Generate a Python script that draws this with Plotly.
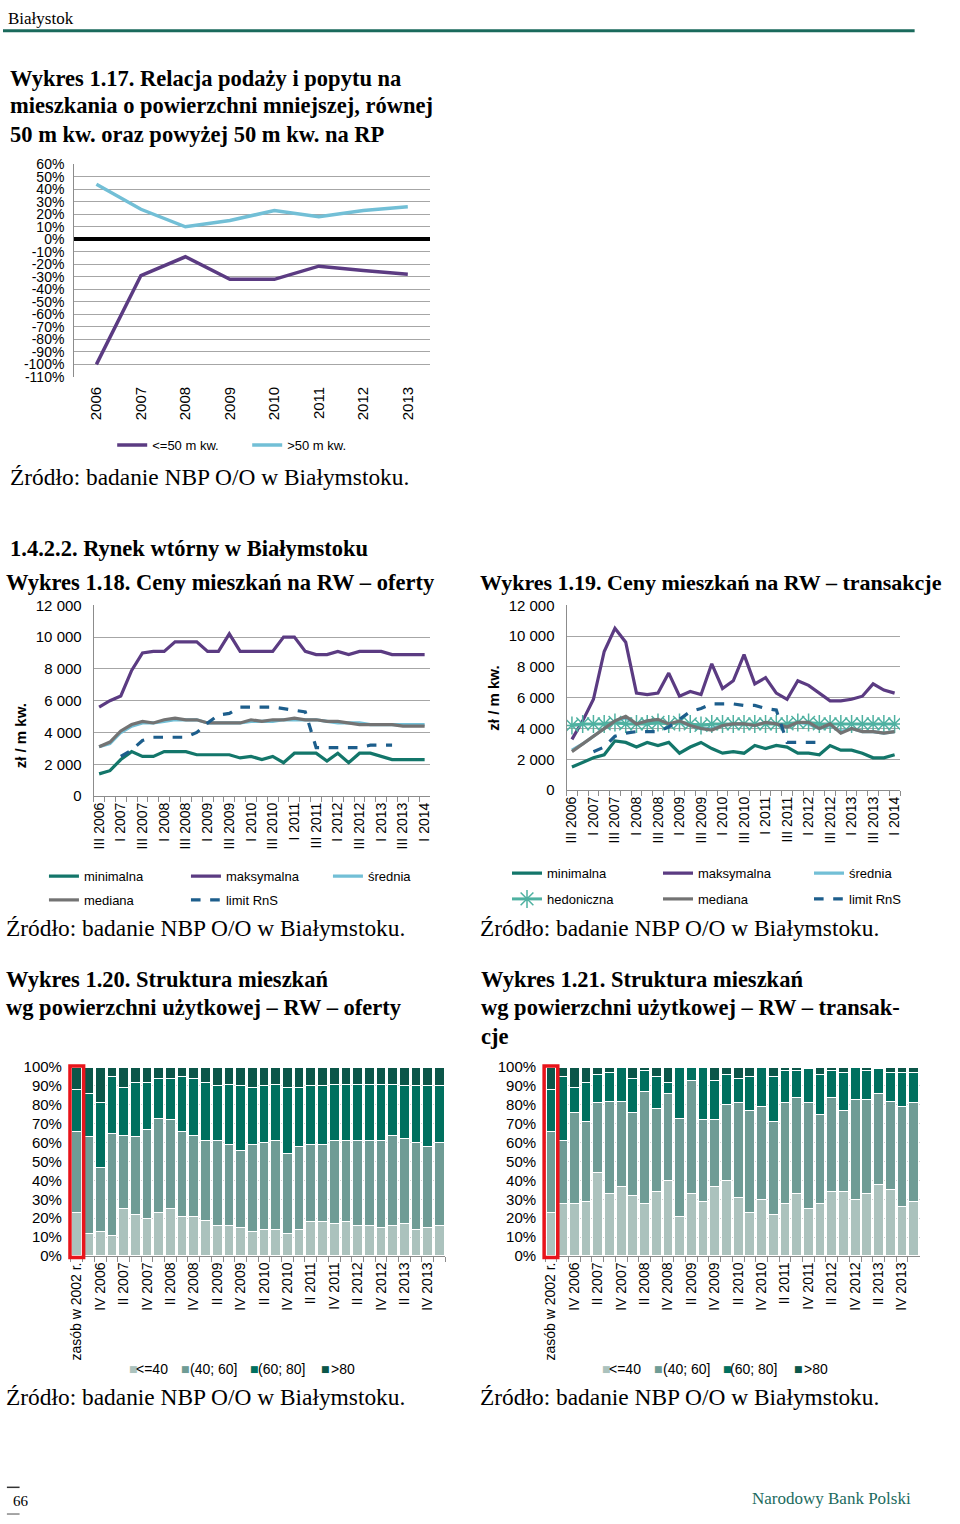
import plotly.graph_objects as go

W, H = 960, 1524

# ---------------- data ----------------
years = ["2006", "2007", "2008", "2009", "2010", "2011", "2012", "2013"]
rel_small = [-100, -29, -14, -32, -32, -21.5, -25, -28]     # <=50 m kw.
rel_large = [44, 24, 10, 15, 23, 18, 23, 26]                 # >50 m kw.
rel_ticks = [60, 50, 40, 30, 20, 10, 0, -10, -20, -30, -40, -50, -60, -70, -80, -90, -100, -110]
rel_ticktext = ["60%", "50%", "40%", "30%", "20%", "10%", "0%", "-10%", "-20%", "-30%", "-40%",
                "-50%", "-60%", "-70%", "-80%", "-90%", "-100%", "-110%"]

quarters = ["III 2006", "IV 2006",
            "I 2007", "II 2007", "III 2007", "IV 2007",
            "I 2008", "II 2008", "III 2008", "IV 2008",
            "I 2009", "II 2009", "III 2009", "IV 2009",
            "I 2010", "II 2010", "III 2010", "IV 2010",
            "I 2011", "II 2011", "III 2011", "IV 2011",
            "I 2012", "II 2012", "III 2012", "IV 2012",
            "I 2013", "II 2013", "III 2013", "IV 2013",
            "I 2014"]

# Wykres 1.18 - oferty (zł / m kw.)
off_min = [1400, 1600, 2300, 2800, 2500, 2500, 2800, 2800, 2800, 2600, 2600, 2600, 2600, 2400, 2500, 2300,
           2500, 2100, 2700, 2700, 2700, 2200, 2700, 2100, 2700, 2700, 2500, 2300, 2300, 2300, 2300]
off_max = [5600, 6000, 6300, 7900, 9000, 9100, 9100, 9700, 9700, 9700, 9100, 9100, 10200, 9100, 9100, 9100,
           9100, 10000, 10000, 9100, 8900, 8900, 9100, 8900, 9100, 9100, 9100, 8900, 8900, 8900, 8900]
off_mean = [3100, 3300, 4000, 4400, 4600, 4600, 4700, 4800, 4800, 4800, 4600, 4600, 4600, 4600, 4700, 4700,
            4700, 4800, 4800, 4800, 4800, 4700, 4600, 4600, 4600, 4500, 4500, 4500, 4500, 4500, 4500]
off_median = [3100, 3400, 4100, 4500, 4700, 4600, 4800, 4900, 4800, 4800, 4600, 4600, 4600, 4600, 4800, 4700,
              4800, 4800, 4900, 4800, 4800, 4700, 4700, 4600, 4500, 4500, 4500, 4500, 4400, 4400, 4400]
off_limit = [None, None, 2500, 2900, 3500, 3700, 3700, 3700, 3700, 4000, 4600, 5100, 5200, 5600, 5600, 5600,
             5600, 5500, 5400, 5300, 3050, 3050, 3050, 3050, 3050, 3200, 3200, 3200, None, None, None]

# Wykres 1.19 - transakcje (zł / m kw.)
tr_min = [1500, 1800, 2100, 2300, 3200, 3100, 2800, 3100, 2900, 3100, 2400, 2800, 3100, 2700, 2400, 2500,
          2400, 2900, 2700, 2900, 2800, 2400, 2400, 2300, 2900, 2600, 2600, 2400, 2100, 2100, 2300]
tr_max = [3300, 4500, 5900, 9000, 10500, 9600, 6300, 6200, 6300, 7600, 6100, 6400, 6200, 8200, 6600, 7100,
          8800, 6900, 7300, 6300, 5900, 7100, 6800, 6300, 5800, 5800, 5900, 6100, 6900, 6500, 6300]
tr_mean = [2600, 3000, 3500, 4000, 4500, 4700, 4300, 4500, 4500, 4300, 4400, 4200, 4000, 4000, 4200, 4300,
           4300, 4200, 4400, 4300, 4100, 4400, 4300, 4000, 4200, 3800, 4000, 3800, 3800, 3700, 3800]
tr_hed = [4200, 4300, 4300, 4300, 4400, 4300, 4300, 4300, 4400, 4300, 4400, 4300, 4200, 4300, 4300, 4300,
          4300, 4300, 4300, 4300, 4300, 4400, 4400, 4300, 4300, 4300, 4300, 4300, 4300, 4300, 4300]
tr_median = [2500, 3000, 3500, 4000, 4500, 4800, 4300, 4500, 4600, 4300, 4500, 4200, 4000, 3900, 4200, 4300,
             4300, 4200, 4400, 4300, 4100, 4400, 4400, 4000, 4300, 3700, 4000, 3800, 3800, 3700, 3800]
tr_limit = [None, None, 2500, 2800, 3500, 3700, 3800, 3800, 3800, 4100, 4600, 5100, 5300, 5600, 5600, 5600,
            5500, 5500, 5300, 5200, 3100, 3100, 3100, 3100, None, None, None, None, None, None, None]

# Wykres 1.20 / 1.21 - struktura (%)
bar_cats = ["zasób w 2002 r."] + quarters
size_names = ["<=40", "(40; 60]", "(60; 80]", ">80"]
of_le40 = [23, 12, 13, 11, 25, 22, 20, 23, 25, 21, 21, 19, 16, 16, 15, 13, 14, 14, 12, 14, 18, 18, 17, 18,
           16, 16, 15, 16, 17, 14, 15, 16]
of_40_60 = [43, 51, 34, 54, 39, 41, 47, 50, 47, 45, 43, 42, 45, 43, 41, 46, 46, 47, 42, 44, 41, 41, 44, 43,
            45, 45, 46, 48, 45, 46, 43, 44]
of_60_80 = [22, 23, 34, 30, 25, 29, 25, 21, 22, 29, 30, 31, 29, 32, 34, 30, 30, 30, 35, 31, 31, 31, 30, 30,
            30, 30, 30, 27, 28, 30, 32, 30]
of_gt80 = [12, 14, 19, 5, 11, 8, 8, 6, 6, 5, 6, 8, 10, 9, 10, 11, 10, 9, 11, 11, 10, 10, 9, 9,
           9, 9, 9, 9, 10, 10, 10, 10]
tr_le40 = [23, 28, 28, 29, 44, 33, 37, 32, 28, 34, 40, 21, 33, 29, 37, 40, 31, 23, 30, 22, 28, 33, 25, 28,
           34, 34, 30, 33, 38, 35, 26, 29]
tr_40_60 = [43, 33, 48, 42, 37, 49, 45, 44, 59, 44, 46, 52, 60, 43, 35, 40, 50, 54, 49, 49, 53, 51, 56, 47,
            50, 43, 53, 50, 48, 47, 53, 52]
tr_60_80 = [22, 34, 13, 21, 15, 15, 18, 18, 11, 17, 6, 27, 7, 28, 21, 16, 13, 18, 21, 24, 17, 14, 18, 21,
            14, 20, 17, 15, 13, 15, 18, 16]
tr_gt80 = [12, 5, 11, 8, 4, 3, 0, 6, 2, 5, 8, 0, 0, 0, 7, 4, 6, 5, 0, 5, 2, 2, 1, 4,
           2, 3, 0, 2, 1, 3, 3, 3]

line_ticktext = [q if i % 2 == 0 else "" for i, q in enumerate(quarters)]
bar_ticktext = [c if i % 2 == 0 else "" for i, c in enumerate(bar_cats)]

# ---------------- styles ----------------
C_MIN = "#13766a"
C_MAX = "#5b3b82"
C_MEAN = "#72bfd6"
C_MED = "#737373"
C_LIM = "#1d5e8c"
C_HED = "#4fb1a1"
BAR_COLORS = ["#abc2bd", "#6f9c95", "#00705f", "#0b5649"]
GRID = "#a6a6a6"
SANS = "Liberation Sans"
SERIF = "Liberation Serif"


def px_x(p):
    return p / W


def px_y(p):
    return 1 - p / H


fig = go.Figure()

# 1.17
fig.add_trace(go.Scatter(x=years, y=rel_small, name="<=50 m kw.", mode="lines",
                         line=dict(color=C_MAX, width=3.5), xaxis="x", yaxis="y", legend="legend"))
fig.add_trace(go.Scatter(x=years, y=rel_large, name=">50 m kw.", mode="lines",
                         line=dict(color=C_MEAN, width=3.5), xaxis="x", yaxis="y", legend="legend"))

# 1.18
fig.add_trace(go.Scatter(x=quarters, y=off_min, name="minimalna", mode="lines",
                         line=dict(color=C_MIN, width=3.2), xaxis="x2", yaxis="y2", legend="legend2"))
fig.add_trace(go.Scatter(x=quarters, y=off_max, name="maksymalna", mode="lines",
                         line=dict(color=C_MAX, width=3.2), xaxis="x2", yaxis="y2", legend="legend2"))
fig.add_trace(go.Scatter(x=quarters, y=off_mean, name="średnia", mode="lines",
                         line=dict(color=C_MEAN, width=3.2), xaxis="x2", yaxis="y2", legend="legend2"))
fig.add_trace(go.Scatter(x=quarters, y=off_median, name="mediana", mode="lines",
                         line=dict(color=C_MED, width=3.2), xaxis="x2", yaxis="y2", legend="legend3"))
fig.add_trace(go.Scatter(x=quarters, y=off_limit, name="limit RnS", mode="lines",
                         line=dict(color=C_LIM, width=3.2, dash="dash"), xaxis="x2", yaxis="y2",
                         legend="legend3"))

# 1.19
fig.add_trace(go.Scatter(x=quarters, y=tr_min, name="minimalna", mode="lines",
                         line=dict(color=C_MIN, width=3.2), xaxis="x3", yaxis="y3", legend="legend4"))
fig.add_trace(go.Scatter(x=quarters, y=tr_max, name="maksymalna", mode="lines",
                         line=dict(color=C_MAX, width=3.2), xaxis="x3", yaxis="y3", legend="legend4"))
fig.add_trace(go.Scatter(x=quarters, y=tr_mean, name="średnia", mode="lines",
                         line=dict(color=C_MEAN, width=3.2), xaxis="x3", yaxis="y3", legend="legend4"))
fig.add_trace(go.Scatter(x=quarters, y=tr_hed, name="hedoniczna", mode="lines+markers",
                         line=dict(color=C_HED, width=3),
                         marker=dict(symbol="asterisk-open", size=15, color=C_HED,
                                     line=dict(color=C_HED, width=1.5)),
                         xaxis="x3", yaxis="y3", legend="legend5"))
fig.add_trace(go.Scatter(x=quarters, y=tr_median, name="mediana", mode="lines",
                         line=dict(color=C_MED, width=3.2), xaxis="x3", yaxis="y3", legend="legend5"))
fig.add_trace(go.Scatter(x=quarters, y=tr_limit, name="limit RnS", mode="lines",
                         line=dict(color=C_LIM, width=3.2, dash="dash"), xaxis="x3", yaxis="y3",
                         legend="legend5"))

# 1.20 / 1.21
for vals, nm, col in zip([of_le40, of_40_60, of_60_80, of_gt80], size_names, BAR_COLORS):
    fig.add_trace(go.Bar(x=bar_cats, y=vals, name=nm, showlegend=False,
                         marker=dict(color=col, line=dict(color="white", width=1)),
                         xaxis="x4", yaxis="y4"))
for vals, nm, col in zip([tr_le40, tr_40_60, tr_60_80, tr_gt80], size_names, BAR_COLORS):
    fig.add_trace(go.Bar(x=bar_cats, y=vals, name=nm, showlegend=False,
                         marker=dict(color=col, line=dict(color="white", width=1)),
                         xaxis="x5", yaxis="y5"))

tickfont = dict(family=SANS, size=15, color="black")
xtickfont = dict(family=SANS, size=14, color="black")

layout = dict(
    width=W, height=H, autosize=False,
    margin=dict(l=0, r=0, t=0, b=0),
    paper_bgcolor="white", plot_bgcolor="white",
    font=dict(family=SANS, size=15, color="black"),
    separators=", ",
    barmode="stack", bargap=0.17,
    hovermode=False,
)

# axes 1.17
layout["xaxis"] = dict(domain=[px_x(73), px_x(438)], anchor="y", type="category", range=[-0.5, 7.5],
                       tickangle=-90, tickfont=tickfont, showgrid=False, showline=False, ticks="",
                       ticklabelstandoff=6)
layout["yaxis"] = dict(domain=[px_y(372), px_y(157)], anchor="x", range=[-110, 60],
                       tickmode="array", tickvals=rel_ticks, ticktext=rel_ticktext,
                       tickfont=dict(family=SANS, size=14, color="black"),
                       showgrid=True, gridcolor=GRID, gridwidth=1, showline=True, linecolor="#8c8c8c",
                       zeroline=True, zerolinecolor="black", zerolinewidth=4, ticks="", ticklabelstandoff=6)

# axes 1.18 / 1.19
LINE_X = {"2": (93, 438), "3": (578, 920)}
LINE_Y = {"2": (796, 603), "3": (790, 603)}
for ax in ["2", "3"]:
    xd, yd = LINE_X[ax], LINE_Y[ax]
    layout["xaxis" + ax] = dict(domain=[px_x(xd[0]), px_x(xd[1])], anchor="y" + ax, type="category",
                                tickmode="array", tickvals=quarters, ticktext=line_ticktext,
                                tickson="boundaries", ticks="outside", ticklen=5, tickcolor="#8c8c8c",
                                tickangle=-90, tickfont=xtickfont, showgrid=False,
                                showline=True, linecolor="#8c8c8c", range=[-0.5, 30.5])
    layout["yaxis" + ax] = dict(domain=[px_y(yd[0]), px_y(yd[1])], anchor="x" + ax, range=[0, 12000],
                                dtick=2000, tickformat=",d", tickfont=tickfont, showgrid=True,
                                gridcolor=GRID, showline=True, linecolor="#8c8c8c", zeroline=False,
                                ticks="", ticklabelstandoff=8)

# axes 1.20 / 1.21
BAR_X = {"4": (69.7, 453.7), "5": (556, 940)}
BAR_Y = (1261, 1070)
for ax in ["4", "5"]:
    xd = BAR_X[ax]
    layout["xaxis" + ax] = dict(domain=[px_x(xd[0]), px_x(xd[1])], anchor="y" + ax, type="category",
                                tickmode="array", tickvals=bar_cats, ticktext=bar_ticktext,
                                tickson="boundaries", ticks="outside", ticklen=5, tickcolor="#8c8c8c",
                                tickangle=-90, tickfont=xtickfont, showgrid=False,
                                showline=True, linecolor="#8c8c8c", range=[-0.5, 31.5])
    layout["yaxis" + ax] = dict(domain=[px_y(BAR_Y[0]), px_y(BAR_Y[1])], anchor="x" + ax, range=[0, 100],
                                dtick=10, ticksuffix="%", tickfont=tickfont, showgrid=True,
                                gridcolor="#d0d0d0", showline=False, zeroline=False, ticks="",
                                ticklabelstandoff=8)

legend_common = dict(orientation="h", bgcolor="rgba(0,0,0,0)", font=dict(family=SANS, size=13, color="black"),
                     xanchor="left", yanchor="middle", itemclick=False, itemdoubleclick=False,
                     traceorder="normal", itemwidth=30, entrywidthmode="pixels")
layout["legend"] = dict(legend_common, x=px_x(112), y=px_y(441), entrywidth=90)
layout["legend2"] = dict(legend_common, x=px_x(42), y=px_y(877), entrywidth=97)
layout["legend3"] = dict(legend_common, x=px_x(42), y=px_y(901), entrywidth=97)
layout["legend4"] = dict(legend_common, x=px_x(517), y=px_y(874), entrywidth=106)
layout["legend5"] = dict(legend_common, x=px_x(517), y=px_y(900), entrywidth=106)

fig.update_layout(**layout)


def text(px, py, s, size=22.5, family=SERIF, color="black", angle=0, xanchor="left", yanchor="middle"):
    fig.add_annotation(x=px_x(px), y=px_y(py), xref="paper", yref="paper", text=s, showarrow=False,
                       xanchor=xanchor, yanchor=yanchor, align="left", textangle=angle,
                       font=dict(family=family, size=size, color=color), borderpad=0)


SRC = "Źródło: badanie NBP O/O w Białymstoku."
text(4, 10, "Białystok", size=17)
text(6, 70, "<b>Wykres 1.17. Relacja podaży i popytu na</b>")
text(6, 98, "<b>mieszkania o powierzchni mniejszej, równej</b>")
text(6, 127, "<b>50 m kw. oraz powyżej 50 m kw. na RP</b>")
text(6, 473, SRC, size=23.4)
text(6, 546, "<b>1.4.2.2. Rynek wtórny w Białymstoku</b>")
text(2, 580, "<b>Wykres 1.18. Ceny mieszkań na RW – oferty</b>")
text(488, 580, "<b>Wykres 1.19. Ceny mieszkań na RW – transakcje</b>", size=22)
text(18, 735, "<b>zł / m kw.</b>", size=15, family=SANS, angle=-90, xanchor="center")
text(503, 697, "<b>zł / m kw.</b>", size=15, family=SANS, angle=-90, xanchor="center")
text(2, 929, SRC, size=23.4)
text(488, 929, SRC, size=23.4)
text(2, 981, "<b>Wykres 1.20. Struktura mieszkań</b>")
text(2, 1010, "<b>wg powierzchni użytkowej – RW – oferty</b>")
text(489, 981, "<b>Wykres 1.21. Struktura mieszkań</b>")
text(489, 1010, "<b>wg powierzchni użytkowej – RW – transak-</b>")
text(489, 1039, "<b>cje</b>")
text(2, 1404, SRC, size=23.4)
text(488, 1404, SRC, size=23.4)
text(18, 1509, "66", size=15, xanchor="center")
text(932, 1506, "Narodowy Bank Polski", size=17, color="#1c6b5e", xanchor="right")

# legends of the bar charts (small colour squares + labels)
BAR_LEG_OFFSETS = [(128, 135), (182, 191), (252, 260), (325, 335)]
for shift in [0, 485]:
    for (sq, tx), nm, col in zip(BAR_LEG_OFFSETS, size_names, BAR_COLORS):
        text(sq + shift, 1375, "■", size=9, family="DejaVu Sans", color=col)
        text(tx + shift, 1375, nm, size=14, family=SANS)

# decorative page lines and red highlight boxes around "zasób w 2002 r."
fig.add_shape(type="line", xref="paper", yref="paper", x0=0, x1=px_x(935), y0=px_y(22), y1=px_y(22),
              line=dict(color="#1a6a5c", width=3))
fig.add_shape(type="line", xref="paper", yref="paper", x0=px_x(4), x1=px_x(17), y0=px_y(1495), y1=px_y(1495),
              line=dict(color="#333333", width=1.5))
fig.add_shape(type="line", xref="paper", yref="paper", x0=px_x(4), x1=px_x(17), y0=px_y(1522), y1=px_y(1522),
              line=dict(color="#888888", width=1.5))
for ax in ["4", "5"]:
    left, right = BAR_X[ax]
    slot = (right - left) / len(bar_cats)
    cx = left + slot / 2
    fig.add_shape(type="rect", xref="paper", yref="paper",
                  x0=px_x(cx - 7), x1=px_x(cx + 7), y0=px_y(BAR_Y[0] + 1.5), y1=px_y(BAR_Y[1] - 1),
                  line=dict(color="#e8141b", width=3.5), fillcolor="rgba(0,0,0,0)")

fig.write_html("out.html", config={"displayModeBar": False},
               post_script="document.body.style.margin='0px';")
